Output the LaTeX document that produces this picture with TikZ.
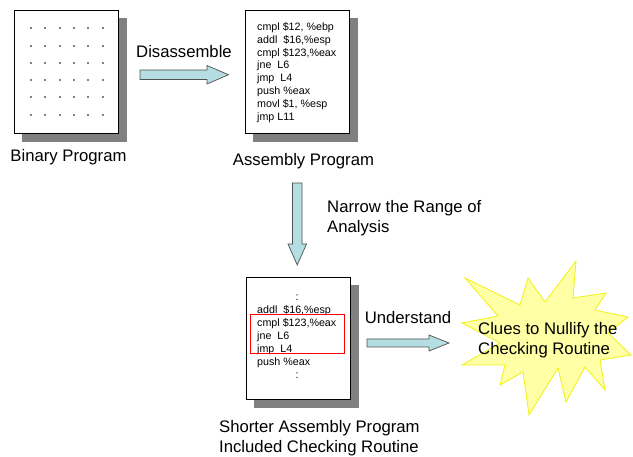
\documentclass[tikz,border=0pt]{standalone}
\usepackage{fontspec}
\setmainfont{Liberation Sans}
\definecolor{shadegray}{RGB}{128,128,128}
\definecolor{arrowline}{RGB}{80,80,80}
\definecolor{arrowfill}{RGB}{180,222,226}
\definecolor{starline}{RGB}{240,240,20}
\definecolor{starfill}{RGB}{255,255,165}
\begin{document}
\begin{tikzpicture}[x=1pt,y=-1pt,
  doc/.style={draw=black,line width=0.8pt,fill=white,anchor=north west,inner sep=0pt},
  blockarrow/.style={draw=arrowline,line width=0.7pt,fill=arrowfill,line join=miter},
  lbl/.style={font=\fontsize{16.7}{20}\selectfont,inner sep=0pt,align=left},
  code/.style={font=\fontsize{10.7}{12.8}\selectfont,inner sep=0pt,align=left},
  dot/.style={circle,fill=black,inner sep=0pt,minimum size=1.8pt}
]
\useasboundingbox (0,0) rectangle (633,457);
% Binary program
\node[doc,minimum width=104pt,minimum height=123pt] (bin) at (14,10) {};
\fill[shadegray] ([xshift=0.4pt,yshift=-8pt]bin.north east) rectangle ([xshift=8pt,yshift=-8pt]bin.south east);
\fill[shadegray] ([xshift=8pt,yshift=-0.4pt]bin.south west) rectangle ([xshift=8pt,yshift=-8pt]bin.south east);
\foreach \x in {31,45,60,74,88,103}
  \foreach \y in {28,46,63,80,97,115}
    \node[dot] at (\x,\y) {};
\node[lbl] (binlbl) at (68.5,157) {Binary Program};
% Assembly program
\node[doc,minimum width=104pt,minimum height=123pt] (asm) at (245,10) {};
\fill[shadegray] ([xshift=0.4pt,yshift=-8pt]asm.north east) rectangle ([xshift=8pt,yshift=-8pt]asm.south east);
\fill[shadegray] ([xshift=8pt,yshift=-0.4pt]asm.south west) rectangle ([xshift=8pt,yshift=-8pt]asm.south east);
\node[code,anchor=west] (asmcode) at (257,72.5) {cmpl \$12, \%ebp\\addl~ \$16,\%esp\\cmpl \$123,\%eax\\jne~ L6\\jmp~ L4\\push \%eax\\movl \$1, \%esp\\jmp L11};
\node[lbl] (asmlbl) at (303.5,161) {Assembly Program};
% Disassemble arrow
\draw[blockarrow] (140,70) -- (207,70) -- (207,65.5) -- (228.5,74.75) -- (207,84) -- (207,79.5) -- (140,79.5) -- cycle;
\node[lbl] (dis) at (184,52) {Disassemble};
% Down arrow
\draw[blockarrow] (292.5,183) -- (302,183) -- (302,244) -- (306.5,244) -- (297.25,265) -- (288,244) -- (292.5,244) -- cycle;
\node[lbl,anchor=west] (narrow) at (327,218) {Narrow the Range of\\Analysis};
% Shorter program
\node[doc,minimum width=104pt,minimum height=122pt] (short) at (246,277) {};
\fill[shadegray] ([xshift=0.4pt,yshift=-8pt]short.north east) rectangle ([xshift=8pt,yshift=-8pt]short.south east);
\fill[shadegray] ([xshift=8pt,yshift=-0.4pt]short.south west) rectangle ([xshift=8pt,yshift=-8pt]short.south east);
\node[code,font=\fontsize{10.7}{13}\selectfont,anchor=west] (shortcode) at (257,336.5) {\hspace*{38.5pt}:\\addl~ \$16,\%esp\\cmpl \$123,\%eax\\jne~ L6\\jmp~ L4\\push \%eax\\\hspace*{38.5pt}:};
\draw[red,line width=0.8pt] (250,314) rectangle (344.5,353);
\node[lbl,anchor=west] (shortlbl) at (219,438) {Shorter Assembly Program\\Included Checking Routine};
% Understand arrow
\draw[blockarrow] (367,339) -- (429,339) -- (429,335) -- (449,343) -- (429,351) -- (429,347) -- (367,347) -- cycle;
\node[lbl] (und) at (408,318) {Understand};
% Star
\draw[draw=starline,line width=0.8pt,fill=starfill,line join=miter]
  (576,261) -- (573,298) -- (606,293) -- (595,310) -- (628,317) -- (608,333) -- (631,355) -- (600,360)
  -- (605,390) -- (585,367) -- (566,402) -- (558,368) -- (529,415) -- (523,372) -- (500,385) -- (505,365)
  -- (462,365) -- (500,343) -- (462,323) -- (498,316) -- (465,278) -- (520,305) -- (528,278) -- (545,302) -- cycle;
\node[lbl,anchor=west] (clues) at (478,340) {Clues to Nullify the\\Checking Routine};
\end{tikzpicture}
\end{document}
